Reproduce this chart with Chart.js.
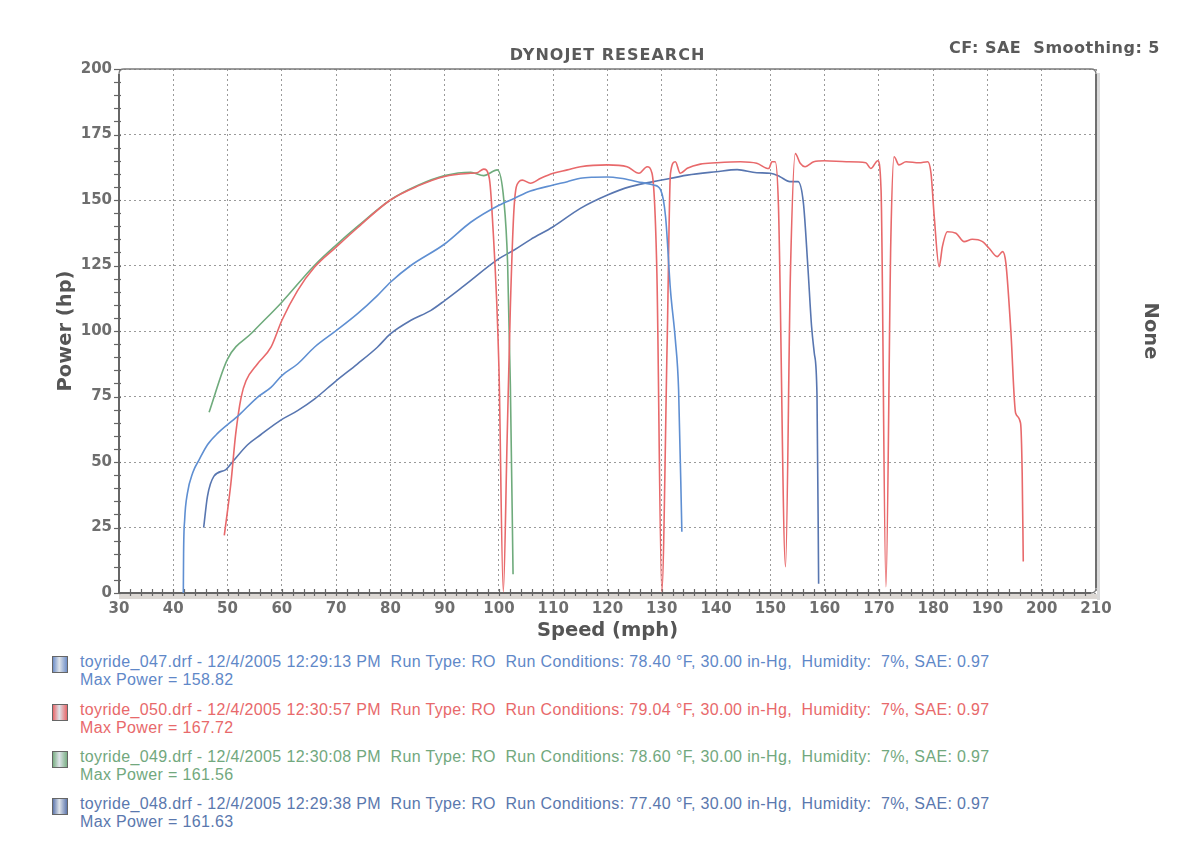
<!DOCTYPE html>
<html>
<head>
<meta charset="utf-8">
<script src="https://cdn.jsdelivr.net/npm/chart.js@4.4.1/dist/chart.umd.min.js"></script>
<style>
  html,body{margin:0;padding:0;background:#fff;width:1197px;height:845px;overflow:hidden;}
  #wrap{position:absolute;left:0;top:0;width:1197px;height:645px;}
  .hdr{position:absolute;font-family:"DejaVu Sans",Verdana,sans-serif;font-weight:bold;color:#5a5a5a;white-space:pre;}
  #legend{position:absolute;left:0;top:653px;width:1197px;font-family:"Liberation Sans",Arial,sans-serif;font-size:16px;letter-spacing:0.35px;}
  .entry{position:absolute;left:52px;white-space:pre;line-height:18px;}
  .box{position:absolute;left:0;top:3px;width:14px;height:15px;border:1px solid #666;}
  .txt{position:absolute;left:28px;top:0;}
</style>
</head>
<body>
<div id="wrap"><canvas id="c" width="1197" height="645"></canvas></div>
<div class="hdr" id="t1" style="left:0;width:1215px;text-align:center;top:45px;font-size:16px;letter-spacing:1px;">DYNOJET RESEARCH</div>
<div class="hdr" id="t2" style="right:37px;top:38px;font-size:16px;letter-spacing:0.5px;">CF: SAE  Smoothing: 5</div>
<div id="legend"></div>
<script>
// ---------- data ----------
const xTicks = [30,40,50,60,70,80,90,100,110,120,130,140,150,160,170,180,190,200,210];
const yTicks = [0,25,50,75,100,125,150,175,200];

const run047Speed = [41.85,41.9,42.1,42.6,43.6,44.8,46.3,48.2,50.9,52.1,55.5,58,60,62.9,66,70,73.9,77.6,80,83.7,90,94.8,100,102.8,105.8,110,112.6,115,117.5,120,122.4,125.5,128.5,129.8,130.7,131.6,132.5,133.1,133.7];
const run047Power = [0,15,28,38,46,51,56.6,61,65.8,67.9,74.7,78.5,83,87.4,93.8,100.1,106.5,113.5,118.6,124.9,133.2,141.5,148,150.6,153.4,155.7,157,158.3,158.7,158.8,158.3,157,155.7,153.8,143.6,115.6,96.6,77.5,23.4];

const run050Speed = [49.4,50.6,51.5,52.5,53.4,55.5,58,60,62.9,66,70,74,80,85,90,94.8,96,97.2,98.2,98.8,100,100.8,101.5,102.1,102.8,103.7,104.3,105.8,107.7,110,112.6,115,120,123.6,125.8,127.3,128.2,129.1,130,131,131.6,132.5,133.4,134.7,137.1,140,144.5,147.5,149.7,150.3,150.9,151.5,152.8,153.7,154.6,155.5,156.4,158,160,164,167.6,168.5,169.8,170.4,171.3,172.2,172.8,173.7,175,177.4,179,179.6,180.2,181.1,181.7,182.6,184.2,185.7,187.2,189.1,190.3,191.8,192.8,193.4,194.3,195.2,196.1,196.4,196.6];
const run050Power = [22,41.6,60.7,74.7,81,87.4,93.8,104,115.4,124.3,132,139.5,150,155.3,159,160.2,160.4,161.8,158.6,143,86,0.5,58,109,147.5,157,157.6,156.4,158.3,160.2,161.5,162.7,163.4,162.7,160.2,162.7,160.2,122,0.5,96.6,160.2,164.6,160.2,162.1,163.7,164.2,164.6,164,162,164.6,164.6,147.5,10,122,167.7,164,162.7,164.6,165,164.6,164.2,162,165,153.8,2.4,134.7,166.5,163.4,164.6,164.2,164.6,160.2,143.6,124.5,132.2,137.9,137.3,134.1,135,134.1,131.6,128.4,130.3,125.8,100.4,68.6,64.8,45.7,12];

const run049Speed = [46.6,50,54.6,60,66,70,74,80,85,90,94.8,97.2,99.7,100.9,101.6,102.1,102.6];
const run049Power = [69,89.3,99.5,111,125,132.8,140,150,155.5,159.3,160.6,159.3,161.5,150,125.6,79.8,7.2];

const run048Speed = [45.6,46.3,47.5,49.7,50.9,53.7,56.1,59.8,62.9,66,70,73.9,77.6,80,83.7,87.4,90,93.6,100,102.8,105.8,110,115,120,124.2,130,134.7,140,143.9,147.5,150,151.7,153.6,155.1,156.1,156.9,157.6,158.1,158.6,158.9];
const run048Power = [25,36.9,44.6,47.1,50,56.6,60.4,66,69.6,74,81,87.4,93.8,98.9,104,107.8,111.6,117.3,127.6,130.9,134.9,139.8,146.8,151.9,155.1,157.6,159.5,160.8,161.6,160.4,160.2,159,157,157,148.7,125,101.7,91.5,75,3.5];

const runNames = ['toyride_047.drf','toyride_050.drf','toyride_049.drf','toyride_048.drf'];
const runTimes = ['12:29:13 PM','12:30:57 PM','12:30:08 PM','12:29:38 PM'];
const runTemps = ['78.40','79.04','78.60','77.40'];
const maxPower = ['158.82','167.72','161.56','161.63'];
const runColors = ['#5f8fd2','#e8696b','#6fab7c','#5876b0'];
const textColors = ['#5f88c8','#e8696b','#72a87e','#5a78ae'];
const boxColors = ['#6f8fc8','#e8676a','#7aaf84','#5f78ae'];

// ---------- build ----------
function pts(xs, ys){ return xs.map((v,i)=>({x:v, y:ys[i]})); }
const speeds = [run047Speed, run050Speed, run049Speed, run048Speed];
const powers = [run047Power, run050Power, run049Power, run048Power];

const datasets = speeds.map((s,i)=>({
  label: runNames[i],
  data: pts(s, powers[i]),
  borderColor: runColors[i],
  borderWidth: 1.6,
  pointRadius: 0,
  fill: false,
  cubicInterpolationMode: 'monotone'
}));

const frame = {
  id: 'frame',
  beforeDatasetsDraw(chart){
    const {ctx, chartArea:a, scales:{x, y}} = chart;
    ctx.save();
    ctx.fillStyle = '#dcd8d4';
    ctx.fillRect(a.left, a.bottom + 1, a.right - a.left + 3, 5);
    ctx.fillStyle = '#dadada';
    ctx.fillRect(a.right + 1, a.top + 4, 3, a.bottom - a.top + 3);
    const r = 5;
    ctx.strokeStyle = '#7a7a7a';
    ctx.lineWidth = 1.3;
    ctx.beginPath();
    ctx.moveTo(a.left, a.bottom);
    ctx.lineTo(a.left, a.top + r);
    ctx.quadraticCurveTo(a.left, a.top, a.left + r, a.top);
    ctx.lineTo(a.right - r, a.top);
    ctx.quadraticCurveTo(a.right, a.top, a.right, a.top + r);
    ctx.lineTo(a.right, a.bottom - r);
    ctx.quadraticCurveTo(a.right, a.bottom, a.right - r, a.bottom);
    ctx.lineTo(a.left, a.bottom);
    ctx.stroke();
    ctx.lineWidth = 1.8;
    ctx.strokeStyle = '#6a6a6a';
    ctx.beginPath();
    ctx.moveTo(a.right, a.top + r); ctx.lineTo(a.right, a.bottom - r);
    ctx.stroke();
    ctx.strokeStyle = '#666';
    ctx.lineWidth = 2;
    ctx.beginPath();
    ctx.moveTo(a.left, a.top + r); ctx.lineTo(a.left, a.bottom);
    ctx.lineTo(a.right - r, a.bottom);
    ctx.stroke();
    ctx.lineWidth = 1.2;
    ctx.strokeStyle = '#666';
    for (let v = y.min; v <= y.max; v += 5){
      const py = Math.round(y.getPixelForValue(v)) + 0.5;
      ctx.beginPath(); ctx.moveTo(a.left - 5, py); ctx.lineTo(a.left + 2, py); ctx.stroke();
    }
    for (let v = x.min + 2; v < x.max; v += 2){
      const px = Math.round(x.getPixelForValue(v)) + 0.5;
      ctx.beginPath(); ctx.moveTo(px, a.bottom - 4); ctx.lineTo(px, a.bottom + 3); ctx.stroke();
    }
    ctx.restore();
  }
};

const tickFont = {family: '"DejaVu Sans", Verdana, sans-serif', size: 15, weight: 'bold'};
const titleFont = {family: '"DejaVu Sans", Verdana, sans-serif', size: 19.5, weight: 'bold'};

new Chart(document.getElementById('c'), {
  type: 'line',
  data: { datasets },
  options: {
    responsive: false,
    animation: false,
    events: [],
    layout: { padding: { top: 69, left: 0, right: 0, bottom: 0 } },
    plugins: { legend: { display: false }, tooltip: { enabled: false } },
    scales: {
      x: {
        type: 'linear', min: xTicks[0], max: xTicks[xTicks.length-1],
        afterBuildTicks: s => { s.ticks = xTicks.map(v => ({value: v})); },
        afterFit: s => { s.height = 52; },
        ticks: { autoSkip: false, maxRotation: 0, color: '#6e6e6e', font: tickFont, padding: 7 },
        grid: { color: '#9a9a9a', lineWidth: 1, drawTicks: false },
        border: { display: false, dash: [2, 3] },
        title: { display: true, text: 'Speed (mph)', color: '#555', font: titleFont, padding: {top: 0, bottom: 2} }
      },
      y: {
        type: 'linear', position: 'left', min: yTicks[0], max: yTicks[yTicks.length-1],
        afterBuildTicks: s => { s.ticks = yTicks.map(v => ({value: v})); },
        afterFit: s => { s.width = 119; },
        ticks: { autoSkip: false, color: '#6e6e6e', font: tickFont, padding: 7 },
        grid: { color: '#9a9a9a', lineWidth: 1, drawTicks: false },
        border: { display: false, dash: [2, 3] },
        title: { display: true, text: 'Power (hp)', color: '#555', font: titleFont, padding: {top: 54, bottom: 0} }
      },
      y2: {
        type: 'linear', position: 'right', min: 0, max: 1,
        afterFit: s => { s.width = 101; },
        ticks: { display: false },
        grid: { display: false, drawTicks: false },
        border: { display: false },
        title: { display: true, text: 'None', color: '#555', font: titleFont, padding: {top: 35, bottom: 0} }
      }
    }
  },
  plugins: [frame]
});

// legend
const leg = document.getElementById('legend');
const tops = [0, 48, 95, 142];
runNames.forEach((n, i) => {
  const e = document.createElement('div');
  e.className = 'entry';
  e.style.top = tops[i] + 'px';
  e.style.color = textColors[i];
  const b = document.createElement('div');
  b.className = 'box';
  b.style.background = 'linear-gradient(90deg,' + boxColors[i] + ' 0%, #dfe4ea 45%, ' + boxColors[i] + ' 100%)';
  const t = document.createElement('div');
  t.className = 'txt';
  t.textContent = n + ' - 12/4/2005 ' + runTimes[i] + '  Run Type: RO  Run Conditions: ' + runTemps[i] +
    ' \u00B0F, 30.00 in-Hg,  Humidity:  7%, SAE: 0.97\nMax Power = ' + maxPower[i];
  e.appendChild(b); e.appendChild(t);
  leg.appendChild(e);
});
</script>
</body>
</html>
